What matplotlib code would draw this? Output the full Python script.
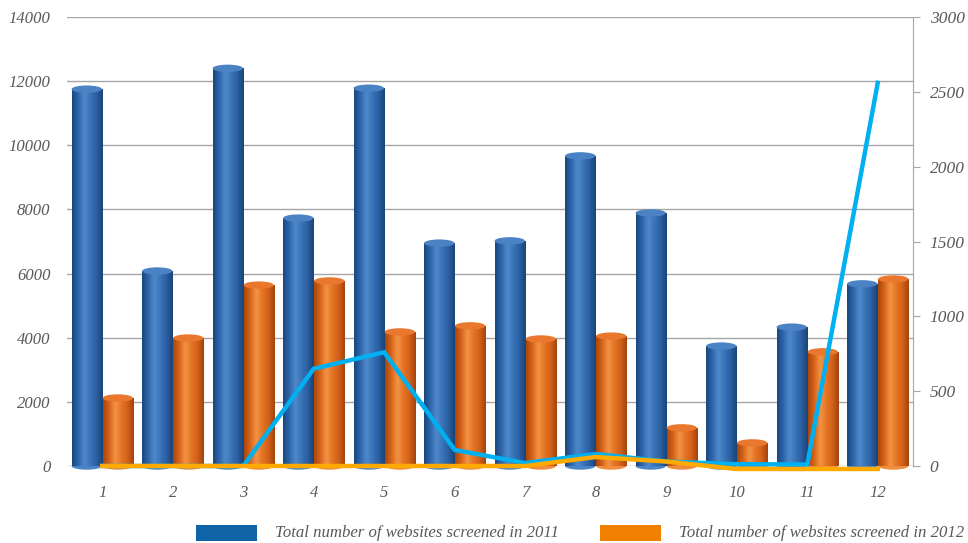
import matplotlib.pyplot as plt
import numpy as np
from matplotlib.colors import LinearSegmentedColormap
from matplotlib.patches import Ellipse, Rectangle

categories = ['1', '2', '3', '4', '5', '6', '7', '8', '9', '10', '11', '12']
screened_2011 = [11750, 6080, 12400, 7730, 11780, 6950, 7020, 9670, 7890, 3740, 4330, 5680]
screened_2012 = [2120, 3990, 5640, 5770, 4180, 4370, 3960, 4050, 1190, 720, 3560, 5830]
line_cyan = [0, 0, 0, 650, 760, 107, 20, 80, 30, 12, 10, 2560]
line_gold = [0, 0, 0, 0, 0, 0, 0, 60, 30, -20, -20, -20]

legend_labels = ['Total number of websites screened in 2011',
                 'Total number of websites screened in 2012']

text_color = '#595959'
grid_color = '#a6a6a6'
font = dict(family='Liberation Serif', style='italic', color=text_color)

blue_cmap = LinearSegmentedColormap.from_list(
    'blue_cyl', ['#1b4680', '#2e66ab', '#5089cb', '#3874b8', '#2b5fa1', '#1a4478'])
orange_cmap = LinearSegmentedColormap.from_list(
    'orange_cyl', ['#a9470b', '#d8641a', '#f39445', '#e47424', '#d2601a', '#a4440c'])
blue_cap = '#4b82c4'
orange_cap = '#e9782e'


def draw_cylinder(ax, x, width, height, cmap, cap_color, cap_h):
    grad = np.linspace(0, 1, 64).reshape(1, -1)
    body = Rectangle((x - width / 2, 0), width, height, facecolor='none',
                     edgecolor='none')
    ax.add_patch(body)
    im = ax.imshow(grad, cmap=cmap, aspect='auto', interpolation='bicubic',
                   extent=(x - width / 2, x + width / 2, 0, height), zorder=2)
    im.set_clip_path(body)
    bottom = Ellipse((x, 0), width, cap_h, facecolor=cmap(0.45),
                     edgecolor='none', zorder=1.9, clip_on=False)
    ax.add_patch(bottom)
    top = Ellipse((x, height), width, cap_h, facecolor=cap_color,
                  edgecolor='none', zorder=2.1)
    ax.add_patch(top)


fig = plt.figure(figsize=(9.68, 5.43), dpi=100)
ax = fig.add_axes([67 / 968, 77 / 543, 846 / 968, 449 / 543])
ax2 = ax.twinx()

x = np.arange(1, len(categories) + 1)
bar_w = 0.43
offset = 0.22
cap_h = 230

for i in range(len(categories)):
    draw_cylinder(ax, x[i] - offset, bar_w, screened_2011[i], blue_cmap, blue_cap, cap_h)
    draw_cylinder(ax, x[i] + offset, bar_w, screened_2012[i], orange_cmap, orange_cap, cap_h)

ax.set_xlim(0.5, 12.5)
ax.set_ylim(0, 14000)
ax.set_yticks(np.arange(0, 14001, 2000))
ax.set_xticks(x)
ax.set_xticklabels(categories)
for yv in np.arange(0, 14001, 2000):
    ax.axhline(yv, color=grid_color, linewidth=1, zorder=0.5)

for spine in ax.spines.values():
    spine.set_visible(False)
ax.tick_params(axis='y', length=0, pad=12)
ax.tick_params(axis='x', length=0, pad=14)
for lbl in ax.get_yticklabels() + ax.get_xticklabels():
    lbl.set_fontfamily('Liberation Serif')
    lbl.set_fontstyle('italic')
    lbl.set_color(text_color)
    lbl.set_fontsize(12)

ax2.plot(x, line_cyan, color='#00b0f0', linewidth=3.2, zorder=3,
         solid_joinstyle='miter', clip_on=False)
ax2.plot(x, line_gold, color='#ffaa00', linewidth=3.2, zorder=4, clip_on=False)
ax2.set_ylim(0, 3000)
ax2.set_yticks(np.arange(0, 3001, 500))
for name, spine in ax2.spines.items():
    spine.set_visible(name == 'right')
ax2.spines['right'].set_color(grid_color)
ax2.tick_params(axis='y', length=5, color=grid_color, pad=7)
for lbl in ax2.get_yticklabels():
    lbl.set_fontfamily('Liberation Serif')
    lbl.set_fontstyle('italic')
    lbl.set_color(text_color)
    lbl.set_fontsize(12.5)
ax.set_zorder(ax2.get_zorder() - 1)
ax2.patch.set_visible(False)

# legend along the bottom edge
legend_colors = ['#0f64a8', '#f08000']
legend_x = [196, 600]
for lx, col, txt in zip(legend_x, legend_colors, legend_labels):
    fig.patches.append(Rectangle((lx / 968, 2 / 543), 61 / 968, 16 / 543,
                                 transform=fig.transFigure, facecolor=col,
                                 edgecolor='none'))
    fig.text((lx + 79) / 968, 10 / 543, txt, fontsize=12.1, va='center',
             ha='left', **font)

fig.savefig('out.png', dpi=100)
